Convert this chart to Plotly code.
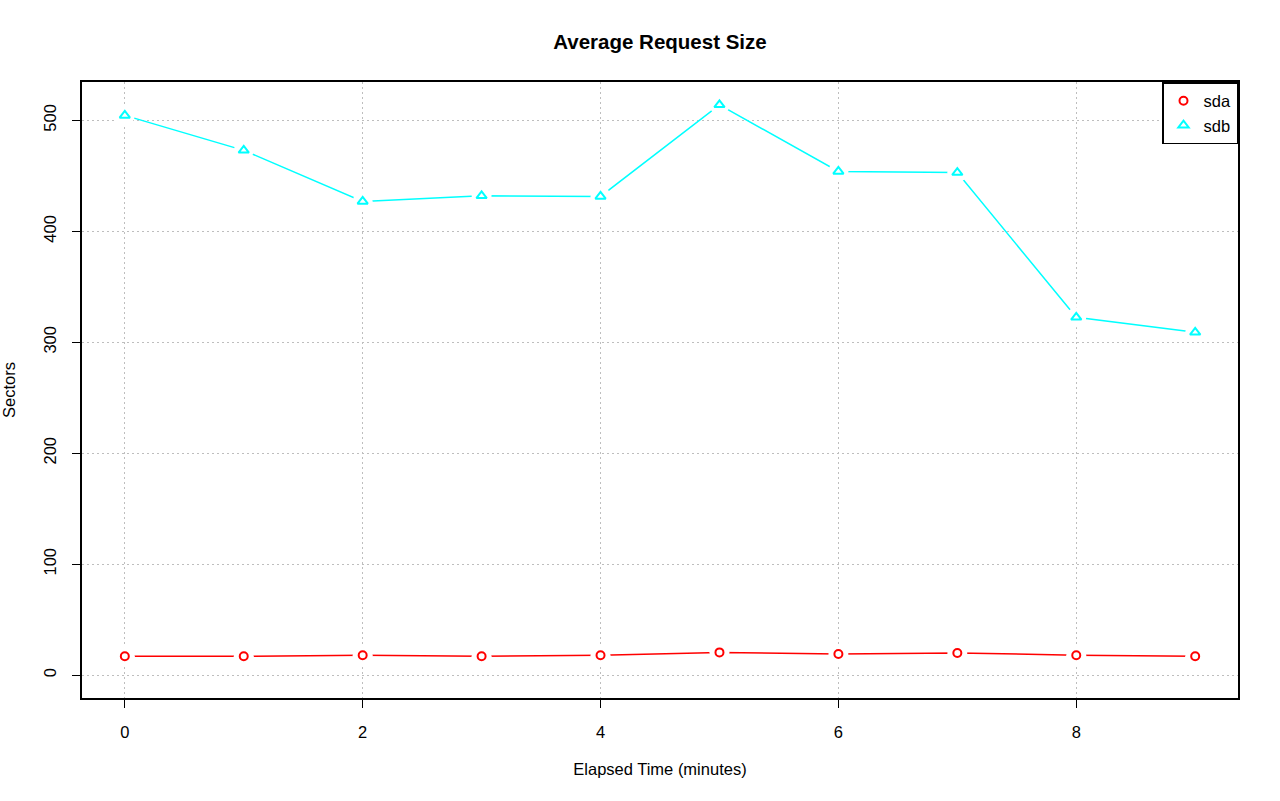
import plotly.graph_objects as go

minutes = [0, 1, 2, 3, 4, 5, 6, 7, 8, 9]
sda = [17, 17, 18, 17, 18, 20.5, 19, 20, 18, 17]
sdb = [504.5, 473, 427, 432, 431.5, 514, 454, 453, 322.5, 309]

FONT = "Liberation Sans, Arial, Helvetica, sans-serif"

fig = go.Figure()

def add_series(name, y, color, symbol, size):
    fig.add_trace(go.Scatter(x=minutes, y=y, mode="lines", line=dict(color=color, width=1.5),
                             showlegend=False, hoverinfo="skip"))
    fig.add_trace(go.Scatter(x=minutes, y=y, mode="markers",
                             marker=dict(symbol="circle", size=20, color="white",
                                         line=dict(width=0)),
                             showlegend=False, hoverinfo="skip"))
    fig.add_trace(go.Scatter(x=minutes, y=y, mode="markers", name=name,
                             marker=dict(symbol=symbol, size=size, color=color,
                                         line=dict(color=color, width=2))))

add_series("sda", sda, "#ff0000", "circle-open", 8)
add_series("sdb", sdb, "#00ffff", "triangle-up-open", 9)

axis_common = dict(
    showline=True, linecolor="black", linewidth=1.5, mirror=True,
    ticks="outside", ticklen=8, tickcolor="black", tickwidth=1.2,
    showgrid=True, gridcolor="#bebebe", griddash="1.5px,3.5px", gridwidth=1.2,
    zeroline=False, automargin=False,
    tickfont=dict(size=16.5, color="black", family=FONT),
)

fig.update_layout(
    width=1280, height=801,
    paper_bgcolor="white", plot_bgcolor="white",
    margin=dict(l=82, r=42, t=82, b=103),
    font=dict(family=FONT, color="black", size=16.5),
    title=dict(text="<b>Average Request Size</b>", x=(82 + 1238) / 2 / 1280, xanchor="center",
               y=1 - 42 / 801, yanchor="middle", font=dict(size=20.5, family=FONT, color="black")),
    xaxis=dict(range=[-0.36, 9.36], tickvals=[0, 2, 4, 6, 8], ticklabelstandoff=10,
               title=dict(text="Elapsed Time (minutes)", standoff=24, font=dict(size=16.5)),
               **axis_common),
    yaxis=dict(range=[-20.6, 534.6], tickvals=[0, 100, 200, 300, 400, 500], tickangle=-90,
               ticklabelstandoff=10,
               title=dict(text="Sectors", standoff=22, font=dict(size=16.5)),
               **axis_common),
    legend=dict(x=1, y=1, xanchor="right", yanchor="top", bordercolor="black", borderwidth=1.5,
                bgcolor="white", font=dict(size=16.5, family=FONT), tracegroupgap=0,
                itemwidth=30),
    showlegend=True,
)

fig.write_html("out.html", config={"displayModeBar": False})
with open("out.html", encoding="utf-8") as f:
    html = f.read()
html = html.replace("<body>", '<body style="margin:0;padding:0;overflow:hidden">', 1)
with open("out.html", "w", encoding="utf-8") as f:
    f.write(html)
